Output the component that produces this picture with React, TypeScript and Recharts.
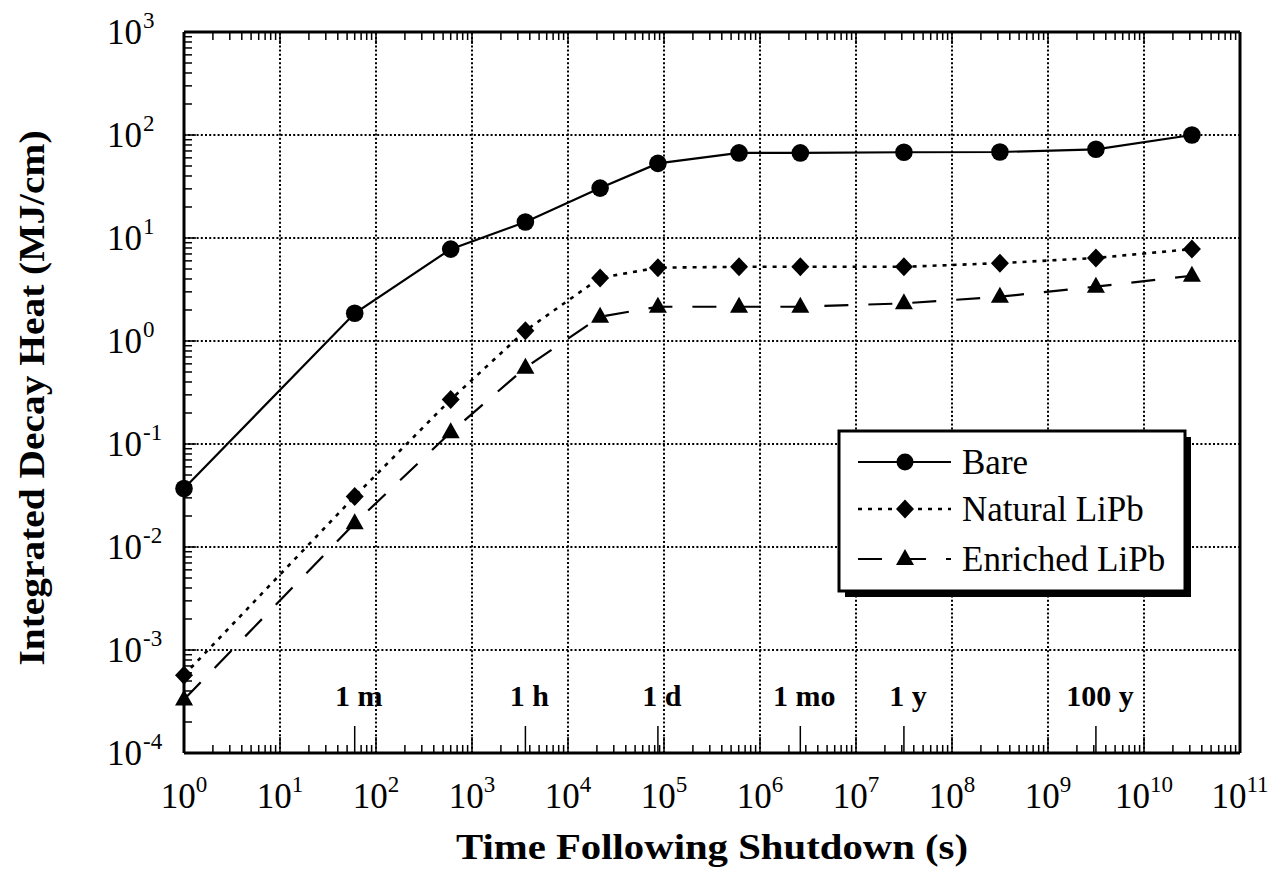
import React from "react";
import { Label, Line, LineChart, ReferenceLine, XAxis, YAxis } from "recharts";

// time points (s): 1 s, 1 m, 10 m, 1 h, 6 h, 1 d, 1 w, 1 mo, 1 y, 10 y, 100 y, 1000 y
const times = [1, 60, 600, 3600, 21600, 86400, 604800, 2.63e6, 3.156e7, 3.156e8, 3.156e9, 3.156e10];
const bare = [0.037, 1.86, 7.8, 14.3, 30.5, 53, 67, 67, 68, 68.4, 72.6, 100];
const naturalLiPb = [5.7e-4, 0.031, 0.27, 1.26, 4.1, 5.15, 5.25, 5.25, 5.25, 5.7, 6.4, 7.8];
const enrichedLiPb = [3.3e-4, 0.017, 0.13, 0.55, 1.72, 2.15, 2.15, 2.15, 2.32, 2.69, 3.37, 4.3];

const xDecades = [0, 1, 2, 3, 4, 5, 6, 7, 8, 9, 10, 11];
const yDecades = [-4, -3, -2, -1, 0, 1, 2, 3];
const markTimes = [60, 3600, 86400, 2.63e6, 3.156e7, 3.156e9];
const markLabels = ["1 m", "1 h", "1 d", "1 mo", "1 y", "100 y"];

const seriesNames = ["Bare", "Natural LiPb", "Enriched LiPb"];

const data = times.map((t, i) => ({
  t,
  bare: bare[i],
  natural: naturalLiPb[i],
  enriched: enrichedLiPb[i],
}));

const serif = "'Liberation Serif', 'Times New Roman', serif";
const W = 1272;
const H = 872;

// decade + 2..9 minor tick values
const logTicks = (decades: number[]) => {
  const out: number[] = [];
  decades.forEach((d, i) => {
    out.push(Math.pow(10, d));
    if (i < decades.length - 1) {
      for (let m = 2; m <= 9; m++) out.push(m * Math.pow(10, d));
    }
  });
  return out;
};

const xTicks = logTicks(xDecades);
const yTicks = logTicks(yDecades);
const xTicksBottom = [...xTicks.filter((v) => !markTimes.includes(v)), ...markTimes];

const isDecade = (v: number) => Math.abs(Math.log10(v) - Math.round(Math.log10(v))) < 1e-6;
const expOf = (v: number) => String(Math.round(Math.log10(v)));

function BottomTick(props: any) {
  const { x, y, payload } = props;
  const v = payload.value;
  const mi = markTimes.indexOf(v);
  if (mi >= 0) {
    return (
      <g>
        <line x1={x} x2={x} y1={y} y2={y - 27} stroke="#000" strokeWidth={1.5} />
        <text x={x + 4} y={y - 47} textAnchor="middle" fontFamily={serif} fontWeight="bold" fontSize={30} fill="#000">
          {markLabels[mi]}
        </text>
      </g>
    );
  }
  if (isDecade(v)) {
    return (
      <g>
        <line x1={x} x2={x} y1={y} y2={y - 16} stroke="#000" strokeWidth={1.5} />
        <text x={x} y={y + 55} textAnchor="middle" fontFamily={serif} fontSize={35} fill="#000">
          10
          <tspan dy={-16} fontSize={23}>
            {expOf(v)}
          </tspan>
        </text>
      </g>
    );
  }
  return <line x1={x} x2={x} y1={y} y2={y - 8} stroke="#000" strokeWidth={1.5} />;
}

function TopTick(props: any) {
  const { x, y, payload } = props;
  const len = isDecade(payload.value) ? 12 : 8;
  return <line x1={x} x2={x} y1={y} y2={y + len} stroke="#000" strokeWidth={1.5} />;
}

function LeftTick(props: any) {
  const { x, y, payload } = props;
  const v = payload.value;
  if (isDecade(v)) {
    return (
      <g>
        <line x1={x} x2={x + 12} y1={y} y2={y} stroke="#000" strokeWidth={1.5} />
        <text x={x - 42} y={y + 12} textAnchor="end" fontFamily={serif} fontSize={35} fill="#000">
          10
        </text>
        <text x={x - 41} y={y - 4} textAnchor="start" fontFamily={serif} fontSize={23} fill="#000">
          {expOf(v)}
        </text>
      </g>
    );
  }
  return <line x1={x} x2={x + 8} y1={y} y2={y} stroke="#000" strokeWidth={1.5} />;
}

function RightTick(props: any) {
  const { x, y, payload } = props;
  const len = isDecade(payload.value) ? 12 : 8;
  return <line x1={x} x2={x - len} y1={y} y2={y} stroke="#000" strokeWidth={1.5} />;
}

const CircleDot = (p: any) => <circle key={`c${p.index}`} cx={p.cx} cy={p.cy} r={8.8} fill="#000" />;
const DiamondDot = (p: any) => (
  <path
    key={`d${p.index}`}
    d={`M${p.cx},${p.cy - 9.5}L${p.cx + 9},${p.cy}L${p.cx},${p.cy + 9.5}L${p.cx - 9},${p.cy}Z`}
    fill="#000"
  />
);
const TriangleDot = (p: any) => (
  <path key={`t${p.index}`} d={`M${p.cx},${p.cy - 10}L${p.cx + 9},${p.cy + 6}L${p.cx - 9},${p.cy + 6}Z`} fill="#000" />
);

function LegendBox() {
  const x0 = 839;
  const y0 = 431;
  const rows = [462, 509, 559];
  return (
    <svg width={W} height={H} style={{ position: "absolute", left: 0, top: 0, pointerEvents: "none" }}>
      <rect x={x0 + 6} y={y0 + 6} width={346} height={160} fill="#000" />
      <rect x={x0} y={y0} width={346} height={160} fill="#fff" stroke="#000" strokeWidth={3} />
      <line x1={858} x2={951} y1={rows[0]} y2={rows[0]} stroke="#000" strokeWidth={2} />
      <circle cx={905} cy={rows[0]} r={8.5} fill="#000" />
      <line x1={858} x2={951} y1={rows[1]} y2={rows[1]} stroke="#000" strokeWidth={2.4} strokeDasharray="4 6" />
      <path d={`M905,${rows[1] - 9.5}L914,${rows[1]}L905,${rows[1] + 9.5}L896,${rows[1]}Z`} fill="#000" />
      <line x1={858} x2={951} y1={rows[2]} y2={rows[2]} stroke="#000" strokeWidth={2} strokeDasharray="24 20" />
      <path d={`M905,${rows[2] - 10}L914,${rows[2] + 6}L896,${rows[2] + 6}Z`} fill="#000" />
      {seriesNames.map((n, i) => (
        <text key={n} x={962} y={rows[i] + 12} fontFamily={serif} fontSize={35} fill="#000">
          {n}
        </text>
      ))}
    </svg>
  );
}

export default function App() {
  return (
    <div style={{ position: "absolute", left: 0, top: 0, width: W, height: H, background: "#fff" }}>
      <LineChart width={W} height={H} data={data} margin={{ top: 31, right: 0, bottom: 0, left: 0 }}>
        <XAxis
          xAxisId="b"
          dataKey="t"
          type="number"
          scale="log"
          domain={[1, 1e11]}
          ticks={xTicksBottom}
          interval={0}
          tickLine={false}
          tickSize={0}
          tickMargin={0}
          tick={<BottomTick />}
          axisLine={{ stroke: "#000", strokeWidth: 3 }}
          height={119}
        >
          <Label
            content={(p: any) => {
              const vb = p.viewBox || { x: 184, width: 1056 };
              return (
                <text
                  x={vb.x + vb.width / 2}
                  y={859}
                  textAnchor="middle"
                  textLength={512}
                  lengthAdjust="spacingAndGlyphs"
                  fontFamily={serif}
                  fontWeight="bold"
                  fontSize={35}
                  fill="#000"
                >
                  Time Following Shutdown (s)
                </text>
              );
            }}
          />
        </XAxis>
        <XAxis
          xAxisId="t"
          orientation="top"
          dataKey="t"
          type="number"
          scale="log"
          domain={[1, 1e11]}
          ticks={xTicks}
          interval={0}
          tickLine={false}
          tickSize={0}
          tickMargin={0}
          tick={<TopTick />}
          axisLine={{ stroke: "#000", strokeWidth: 3 }}
          height={1}
        />
        <YAxis
          yAxisId="l"
          type="number"
          scale="log"
          domain={[1e-4, 1e3]}
          ticks={yTicks}
          interval={0}
          tickLine={false}
          tickSize={0}
          tickMargin={0}
          tick={<LeftTick />}
          axisLine={{ stroke: "#000", strokeWidth: 3 }}
          width={184}
        >
          <Label
            content={() => {
              const cx = 44;
              const cy = 398;
              return (
                <text
                  x={cx}
                  y={cy}
                  transform={`rotate(-90 ${cx} ${cy})`}
                  textAnchor="middle"
                  textLength={535}
                  lengthAdjust="spacingAndGlyphs"
                  fontFamily={serif}
                  fontWeight="bold"
                  fontSize={35}
                  fill="#000"
                >
                  Integrated Decay Heat (MJ/cm)
                </text>
              );
            }}
          />
        </YAxis>
        <YAxis
          yAxisId="r"
          orientation="right"
          type="number"
          scale="log"
          domain={[1e-4, 1e3]}
          ticks={yTicks}
          interval={0}
          tickLine={false}
          tickSize={0}
          tickMargin={0}
          tick={<RightTick />}
          axisLine={{ stroke: "#000", strokeWidth: 3 }}
          width={32}
        />
        {xDecades.slice(1, -1).map((d) => (
          <ReferenceLine
            key={`gx${d}`}
            xAxisId="b"
            yAxisId="l"
            x={Math.pow(10, d)}
            stroke="#000"
            strokeWidth={2}
            strokeDasharray="2 2.2"
          />
        ))}
        {yDecades.slice(1, -1).map((d) => (
          <ReferenceLine
            key={`gy${d}`}
            xAxisId="b"
            yAxisId="l"
            y={Math.pow(10, d)}
            stroke="#000"
            strokeWidth={2}
            strokeDasharray="2 2.2"
          />
        ))}
        <Line
          xAxisId="b"
          yAxisId="l"
          type="linear"
          dataKey="bare"
          name={seriesNames[0]}
          stroke="#000"
          strokeWidth={2.2}
          dot={CircleDot}
          activeDot={false}
          isAnimationActive={false}
        />
        <Line
          xAxisId="b"
          yAxisId="l"
          type="linear"
          dataKey="natural"
          name={seriesNames[1]}
          stroke="#000"
          strokeWidth={2.6}
          strokeDasharray="4 6"
          dot={DiamondDot}
          activeDot={false}
          isAnimationActive={false}
        />
        <Line
          xAxisId="b"
          yAxisId="l"
          type="linear"
          dataKey="enriched"
          name={seriesNames[2]}
          stroke="#000"
          strokeWidth={2.2}
          strokeDasharray="24 20"
          dot={TriangleDot}
          activeDot={false}
          isAnimationActive={false}
        />
      </LineChart>
      <LegendBox />
    </div>
  );
}
